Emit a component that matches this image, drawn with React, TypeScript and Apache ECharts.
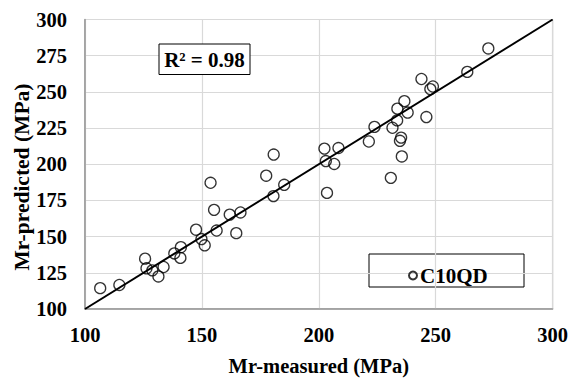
import React, { useEffect, useRef } from "react";
import * as echarts from "echarts";

const measured = [106.5, 114.7, 125.7, 126.3, 128.8, 131.4, 133.6, 138.2, 141.0, 140.8, 147.5, 149.8, 151.2, 153.7, 155.2, 156.3, 161.9, 164.7, 166.5, 177.5, 180.7, 180.6, 185.2, 202.4, 203.0, 203.5, 206.6, 208.4, 221.4, 223.8, 230.8, 231.5, 233.5, 233.6, 234.7, 235.2, 235.5, 236.6, 238.0, 243.9, 246.0, 247.7, 248.8, 263.5, 272.5];
const predicted = [114.4, 116.6, 134.8, 128.1, 126.7, 122.5, 129.0, 138.4, 142.7, 135.3, 154.8, 148.3, 144.0, 187.2, 168.5, 154.2, 165.2, 152.4, 166.7, 192.1, 206.7, 178.0, 185.8, 210.8, 202.2, 180.2, 200.2, 211.2, 215.7, 225.8, 190.6, 225.2, 230.3, 238.4, 216.2, 218.4, 205.4, 243.6, 235.7, 258.9, 232.6, 251.9, 253.7, 263.8, 280.0];
const lineX = [100, 300];
const seriesName = "C10QD";
const r2Label = "R² = 0.98";
const xTitle = "Mr-measured (MPa)";
const yTitle = "Mr-predicted (MPa)";

const FONT = "'Liberation Serif', 'Times New Roman', serif";

export default function App() {
  const ref = useRef<HTMLDivElement>(null);
  useEffect(() => {
    if (!ref.current) return;
    const chart = echarts.init(ref.current, undefined, { renderer: "svg" });
    const labelStyle = { color: "#000", fontFamily: FONT, fontWeight: "bold" as const, fontSize: 20.5 };
    chart.setOption({
      animation: false,
      backgroundColor: "#fff",
      grid: { left: 85, right: 15, top: 19.5, bottom: 64.5, show: true, borderColor: "#888", borderWidth: 1 },
      xAxis: {
        type: "value", min: 100, max: 300, interval: 50,
        name: xTitle, nameLocation: "middle", nameGap: 46,
        nameTextStyle: { ...labelStyle },
        axisLabel: { ...labelStyle, margin: 15 },
        axisLine: { show: true, lineStyle: { color: "#999", width: 1.5 } },
        axisTick: { show: false },
        splitLine: { show: true, lineStyle: { color: "#d9d9d9", width: 1.2 } },
      },
      yAxis: {
        type: "value", min: 100, max: 300, interval: 25,
        axisLabel: { ...labelStyle, margin: 18 },
        axisLine: { show: true, lineStyle: { color: "#999", width: 1.5 } },
        axisTick: { show: false },
        splitLine: { show: true, lineStyle: { color: "#d9d9d9", width: 1.2 } },
      },
      legend: {
        data: [seriesName], left: 403, top: 260, itemWidth: 8, itemHeight: 8,
        textStyle: { ...labelStyle, fontSize: 21, padding: [0, 0, 0, -2] },
      },
      graphic: [
        { type: "rect", shape: { x: 159, y: 44, width: 91, height: 30.5 }, style: { fill: "#fff", stroke: "#000", lineWidth: 1 }, z: 10 },
        { type: "text", x: 204.5, y: 60, style: { text: r2Label, fill: "#000", font: `bold 21px ${FONT}`, textAlign: "center", textVerticalAlign: "middle" }, z: 11 },
        { type: "rect", shape: { x: 369, y: 254, width: 155, height: 33 }, style: { fill: "#fff", stroke: "#000", lineWidth: 1 }, z: -1 },
        { type: "text", x: 22, y: 177, rotation: Math.PI / 2, style: { text: yTitle, fill: "#000", font: `bold 21.5px ${FONT}`, textAlign: "center", textVerticalAlign: "middle" }, z: 11 },
      ],
      series: [
        {
          name: seriesName, type: "scatter", symbol: "circle", symbolSize: 11,
          itemStyle: { color: "rgba(255,255,255,0)", borderColor: "#000", borderWidth: 1.3 },
          data: measured.map((m, i) => [m, predicted[i]]), z: 3,
        },
        {
          type: "line", symbol: "none", silent: true,
          lineStyle: { color: "#000", width: 2 },
          data: lineX.map((v) => [v, v]), z: 4,
        },
      ],
    });
    return () => chart.dispose();
  }, []);
  return <div ref={ref} style={{ position: "fixed", left: 0, top: 0, width: 571, height: 381 }} />;
}
